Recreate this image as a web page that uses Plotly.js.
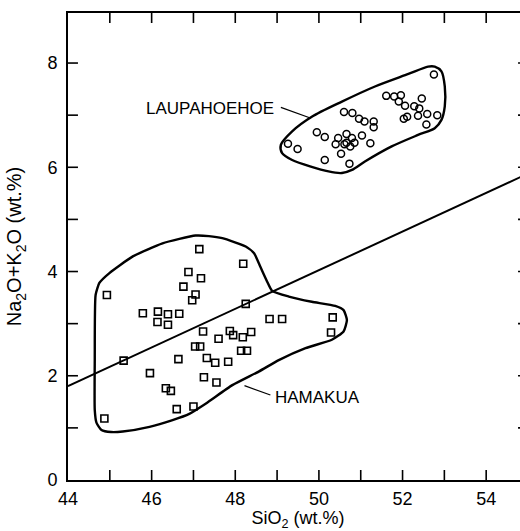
<!DOCTYPE html>
<html>
<head>
<meta charset="utf-8">
<script src="https://cdn.plot.ly/plotly-3.0.1.min.js"></script>
<style>
html,body{margin:0;padding:0;overflow:hidden;background:#fff;width:520px;height:531px;}
#chart{width:531px;height:531px;}
</style>
</head>
<body>
<div id="chart"></div>
<script>
// Laupahoehoe samples (circles)
const laupX = [52.75,51.61,51.80,51.96,51.91,52.06,52.46,52.28,52.40,52.37,52.59,52.83,52.57,52.11,52.03,
  50.60,50.80,50.96,51.09,51.31,51.31,51.03,51.23,49.95,50.14,50.46,50.66,50.79,50.66,50.85,50.40,50.61,50.75,50.53,
  49.26,49.49,50.14,50.73];
const laupY = [7.78,7.37,7.36,7.38,7.26,7.18,7.32,7.17,7.13,6.99,7.02,7.00,6.82,6.97,6.93,
  7.06,7.04,6.93,6.88,6.88,6.77,6.61,6.46,6.67,6.58,6.56,6.64,6.56,6.47,6.47,6.44,6.44,6.40,6.26,
  6.45,6.35,6.14,6.07];

// Hamakua samples (squares)
const hamaX = [44.93,44.87,45.33,45.79,46.15,46.14,46.39,46.39,46.66,46.88,47.18,46.76,47.05,46.97,
  45.96,46.64,46.34,46.46,46.60,47.00,47.04,47.16,47.23,47.32,47.52,47.25,47.55,47.60,47.83,47.87,47.95,
  48.18,48.38,48.14,48.28,48.25,48.19,47.14,48.82,49.12,50.33,50.29];
const hamaY = [3.55,1.18,2.29,3.20,3.23,3.03,3.18,2.98,3.19,3.99,3.87,3.71,3.56,3.45,
  2.05,2.32,1.76,1.71,1.36,1.41,2.56,2.56,2.85,2.34,2.25,1.97,1.87,2.71,2.27,2.86,2.78,
  2.74,2.84,2.48,2.48,3.38,4.15,4.43,3.09,3.09,3.12,2.83];

// Field outlines
const laupOutlineX = [49.09,49.36,49.83,50.55,51.34,52.14,52.61,52.77,52.93,53.01,53.01,52.93,52.77,52.37,51.74,51.10,50.79,50.55,50.23,49.36,49.12,49.09];
const laupOutlineY = [6.43,6.69,6.97,7.26,7.55,7.79,7.93,7.93,7.84,7.55,7.17,6.91,6.75,6.62,6.40,6.11,5.95,5.89,5.92,6.14,6.27,6.43];

const hamaOutlineX = [44.64,44.68,44.80,45.03,45.31,45.95,46.50,46.90,47.30,47.93,48.56,49.04,49.68,50.31,50.59,50.67,50.59,50.39,49.83,49.28,48.88,48.76,48.60,48.45,48.25,47.69,47.37,47.05,46.26,45.55,44.99,44.75,44.66,44.64,44.64];
const hamaOutlineY = [1.34,1.10,0.96,0.92,0.93,1.02,1.15,1.27,1.47,1.82,2.08,2.30,2.53,2.69,2.85,3.07,3.26,3.34,3.42,3.52,3.63,3.81,4.09,4.35,4.48,4.64,4.68,4.69,4.54,4.29,3.97,3.78,3.55,2.30,1.34];

// Dividing line
const divX = [44, 55];
const divY = [1.80, 5.88];

// Leader lines for labels
const laupLeaderX = [49.09, 49.81];
const laupLeaderY = [7.15, 6.94];
const hamaLeaderX = [48.22, 48.84];
const hamaLeaderY = [1.81, 1.63];

// Tick positions (major + minor), drawn inside on every side
const xTickVals = [45,46,47,48,49,50,51,52,53,54];
const yTickVals = [1,2,3,4,5,6,7,8];

const X_RANGE = [44, 55];
const Y_RANGE = [0, 8.96];

const FONT = 'Liberation Sans, Arial, Helvetica, sans-serif';

// Tick length expressed in axis units (plot area is 462 x 467 px, ticks 10 px)
const XLEN = (X_RANGE[1] - X_RANGE[0]) * 10 / 462;
const YLEN = (Y_RANGE[1] - Y_RANGE[0]) * 10 / 467;

// Build tick segments (separated by null gaps) from the tick value arrays
const tickSegX = [], tickSegY = [];
xTickVals.forEach(v => {
  tickSegX.push(v, v, null, v, v, null);
  tickSegY.push(Y_RANGE[0], Y_RANGE[0] + YLEN, null, Y_RANGE[1] - YLEN, Y_RANGE[1], null);
});
yTickVals.forEach(v => {
  tickSegX.push(X_RANGE[0], X_RANGE[0] + XLEN, null, X_RANGE[1] - XLEN, X_RANGE[1], null);
  tickSegY.push(v, v, null, v, v, null);
});

const traces = [
  {x: hamaOutlineX, y: hamaOutlineY, mode: 'lines', line: {color: '#000', width: 2.4, shape: 'spline', smoothing: 0.5}, hoverinfo: 'skip'},
  {x: laupOutlineX, y: laupOutlineY, mode: 'lines', line: {color: '#000', width: 2.4, shape: 'spline', smoothing: 0.8}, hoverinfo: 'skip'},
  {x: divX, y: divY, mode: 'lines', line: {color: '#000', width: 2}, hoverinfo: 'skip'},
  {x: laupLeaderX, y: laupLeaderY, mode: 'lines', line: {color: '#000', width: 1.2}, hoverinfo: 'skip'},
  {x: hamaLeaderX, y: hamaLeaderY, mode: 'lines', line: {color: '#000', width: 1.2}, hoverinfo: 'skip'},
  {x: tickSegX, y: tickSegY, mode: 'lines', connectgaps: false, line: {color: '#000', width: 1.6}, hoverinfo: 'skip'},
  {x: hamaX, y: hamaY, mode: 'markers', marker: {symbol: 'square-open', size: 7, color: '#000', line: {width: 1.6, color: '#000'}}},
  {x: laupX, y: laupY, mode: 'markers', marker: {symbol: 'circle-open', size: 7, color: '#000', line: {width: 1.5, color: '#000'}}}
];

function axis(extra) {
  return Object.assign({
    showgrid: false, zeroline: false, showline: true, linecolor: '#000', linewidth: 2,
    mirror: true, ticks: '', tickmode: 'linear', dtick: 2,
    tickfont: {family: FONT, size: 18, color: '#000'},
    automargin: true
  }, extra);
}

const layout = {
  width: 531, height: 531,
  margin: {l: 68, r: 1, t: 13, b: 51},
  paper_bgcolor: '#fff', plot_bgcolor: '#fff',
  showlegend: false,
  font: {family: FONT, color: '#000'},
  xaxis: axis({
    range: X_RANGE, tick0: 44, ticklabelstandoff: 1,
    title: {text: 'SiO<sub>2</sub> (wt.%)', font: {family: FONT, size: 18, color: '#000'}, standoff: 6}
  }),
  yaxis: axis({
    range: Y_RANGE, tick0: 0, ticklabelstandoff: 5,
    title: {text: 'Na<sub>2</sub>O+K<sub>2</sub>O (wt.%)', font: {family: FONT, size: 20, color: '#000'}, standoff: 20}
  }),
  annotations: [
    {x: 48.97, y: 7.13, xref: 'x', yref: 'y', text: 'LAUPAHOEHOE', showarrow: false, xanchor: 'right', yanchor: 'middle', font: {family: FONT, size: 17, color: '#000'}},
    {x: 48.90, y: 1.59, xref: 'x', yref: 'y', text: 'HAMAKUA', showarrow: false, xanchor: 'left', yanchor: 'middle', font: {family: FONT, size: 17, color: '#000'}}
  ]
};

Plotly.newPlot('chart', traces, layout, {staticPlot: true, displayModeBar: false});
</script>
</body>
</html>
